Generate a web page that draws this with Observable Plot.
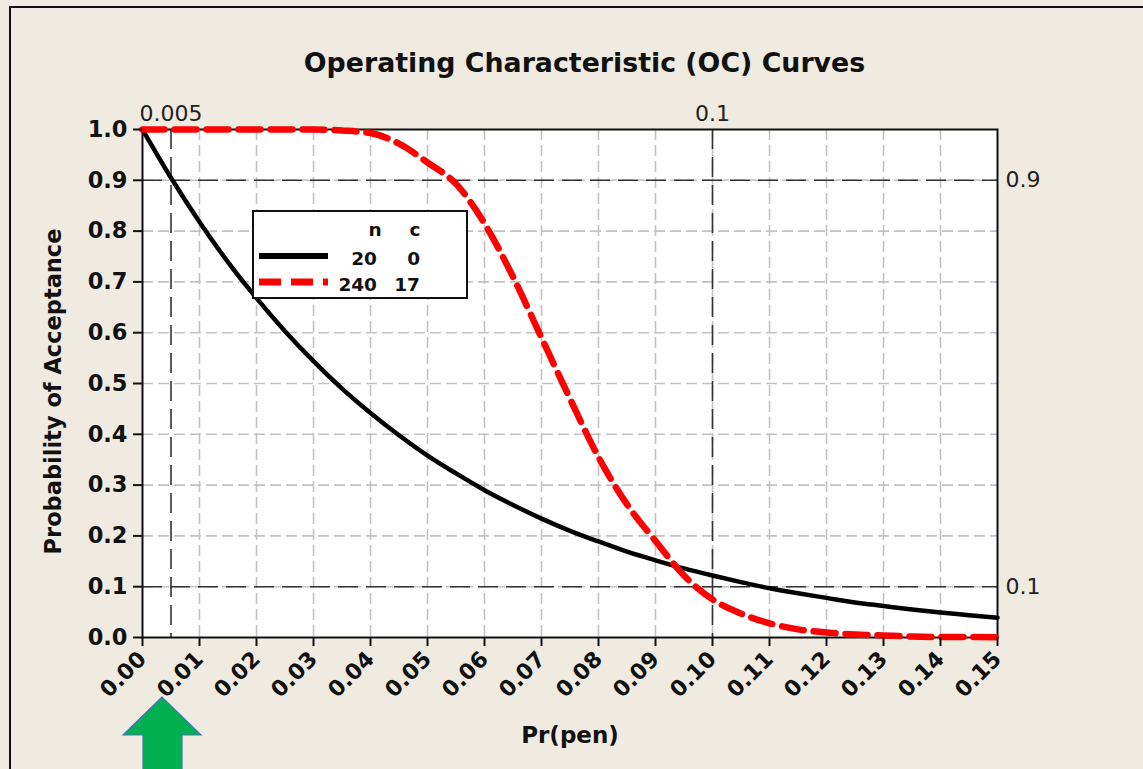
<!DOCTYPE html>
<html>
<head>
<meta charset="utf-8">
<script src="https://cdn.jsdelivr.net/npm/d3@7"></script>
<script src="https://cdn.jsdelivr.net/npm/@observablehq/plot@0.6"></script>
<style>
  html, body { margin: 0; padding: 0; background: #efebe1; }
  #wrap { position: relative; width: 1143px; height: 769px; background: #efebe1; overflow: hidden; font-family: "DejaVu Sans", sans-serif; }
  #frameline { position: absolute; left: 9px; top: 6px; width: 1200px; height: 800px; border-left: 2px solid #111; border-top: 2px solid #111; }
  #title { position: absolute; left: 0; width: 1169px; top: 50px; text-align: center; font-size: 26.8px; line-height: 26px; font-weight: bold; color: #111; }
  #chart { position: absolute; left: 0; top: 0; }
  #legend { position: absolute; left: 252px; top: 210px; }
  #arrow { position: absolute; left: 0; top: 0; }
</style>
</head>
<body>
<div id="wrap">
  <div id="frameline"></div>
  <div id="title">Operating Characteristic (OC) Curves</div>
  <div id="chart"></div>
  <svg id="legend" width="216" height="89"></svg>
  <svg id="arrow" width="1143" height="769"></svg>
</div>
<script>
// ---- data ----
const pValues = [0, 0.005, 0.01, 0.015, 0.02, 0.025, 0.03, 0.035, 0.04, 0.045, 0.05, 0.055, 0.06, 0.065, 0.07, 0.075, 0.08, 0.085, 0.09, 0.095, 0.10, 0.105, 0.11, 0.115, 0.12, 0.125, 0.13, 0.135, 0.14, 0.145, 0.15];
const paPlan20_0 = [1.000, 0.905, 0.818, 0.739, 0.668, 0.603, 0.544, 0.490, 0.442, 0.398, 0.358, 0.323, 0.290, 0.261, 0.234, 0.210, 0.189, 0.169, 0.152, 0.136, 0.122, 0.109, 0.097, 0.087, 0.078, 0.069, 0.062, 0.055, 0.049, 0.044, 0.039];
const paPlan240_17 = [1.000, 1.000, 1.000, 1.000, 1.000, 1.000, 1.000, 0.998, 0.993, 0.972, 0.935, 0.893, 0.815, 0.710, 0.590, 0.470, 0.355, 0.262, 0.190, 0.122, 0.075, 0.047, 0.028, 0.016, 0.010, 0.006, 0.004, 0.002, 0.001, 0.001, 0.0005];
const planN = ["20", "240"];
const planC = ["0", "17"];
const xTicks = [0, 0.01, 0.02, 0.03, 0.04, 0.05, 0.06, 0.07, 0.08, 0.09, 0.10, 0.11, 0.12, 0.13, 0.14, 0.15];
const yTicks = [0, 0.1, 0.2, 0.3, 0.4, 0.5, 0.6, 0.7, 0.8, 0.9, 1.0];
const refX = [0.005, 0.1];
const refXLabels = ["0.005", "0.1"];
const refY = [0.9, 0.1];
const refYLabels = ["0.9", "0.1"];
const titleText = "Operating Characteristic (OC) Curves";
const xLabel = "Pr(pen)";
const yLabel = "Probability of Acceptance";

const line1 = pValues.map((p, i) => ({p, pa: paPlan20_0[i]}));
const line2 = pValues.map((p, i) => ({p, pa: paPlan240_17[i]}));
const refXData = refX.map((v, i) => ({v, label: refXLabels[i]}));
const refYData = refY.map((v, i) => ({v, label: refYLabels[i]}));

const font = "DejaVu Sans";

const chart = Plot.plot({
  width: 1143,
  height: 769,
  marginLeft: 142,
  marginRight: 146,
  marginTop: 129,
  marginBottom: 132,
  x: {domain: [0, 0.15]},
  y: {domain: [0, 1]},
  style: {background: "transparent", fontFamily: font, color: "#111", overflow: "visible"},
  marks: [
    Plot.frame({fill: "white", stroke: "none"}),
    Plot.ruleX(xTicks.slice(1, -1), {stroke: "#c2c2c2", strokeWidth: 1.6, strokeDasharray: "11,5"}),
    Plot.ruleY(yTicks.slice(1, -1), {stroke: "#c2c2c2", strokeWidth: 1.6, strokeDasharray: "11,5"}),
    Plot.ruleX(refXData, {x: "v", stroke: "#333", strokeWidth: 1.6, strokeDasharray: "20,8"}),
    Plot.ruleY(refYData, {y: "v", stroke: "#333", strokeWidth: 1.6, strokeDasharray: "20,8"}),
    Plot.frame({stroke: "#111", strokeWidth: 2}),
    Plot.line(line1, {x: "p", y: "pa", stroke: "#000", strokeWidth: 4.5, curve: "monotone-x"}),
    Plot.line(line2, {x: "p", y: "pa", stroke: "#ff0000", strokeWidth: 6.5, strokeDasharray: "22,10", curve: "monotone-x"}),
    Plot.axisX({ticks: xTicks, tickFormat: d => d.toFixed(2), tickRotate: -45, tickSize: 9, tickPadding: 9, strokeWidth: 2, fontSize: 22, fontWeight: "bold", label: null, fontFamily: font}),
    Plot.axisY({ticks: yTicks, tickFormat: d => d.toFixed(1), tickSize: 9, tickPadding: 6, strokeWidth: 2, fontSize: 22.5, fontWeight: "bold", label: null, fontFamily: font}),
    Plot.text(refXData, {x: "v", text: "label", frameAnchor: "top", lineAnchor: "middle", dy: -16, fontSize: 22, fill: "#222"}),
    Plot.text(refYData, {y: "v", text: "label", frameAnchor: "right", lineAnchor: "middle", dx: 8, textAnchor: "start", fontSize: 22, fill: "#222"}),
    Plot.text([xLabel], {text: d => d, frameAnchor: "bottom", lineAnchor: "middle", dy: 98, fontSize: 23, fontWeight: "bold"}),
    Plot.text([yLabel], {text: d => d, frameAnchor: "left", textAnchor: "middle", lineAnchor: "middle", dx: -89, dy: 8, rotate: -90, fontSize: 22.5, fontWeight: "bold"})
  ]
});
document.getElementById("chart").appendChild(chart);
document.getElementById("title").textContent = titleText;

// ---- legend ----
const lg = d3.select("#legend");
lg.append("rect").attr("x", 1).attr("y", 1).attr("width", 214).attr("height", 87)
  .attr("fill", "white").attr("stroke", "#111").attr("stroke-width", 2);
const lt = (x, y, t, anchor) => lg.append("text").attr("x", x).attr("y", y).attr("text-anchor", anchor)
  .attr("font-family", font).attr("font-size", 18.5).attr("font-weight", "bold").attr("fill", "#111").text(t);
lt(123, 26, "n", "middle");
lt(163, 26, "c", "middle");
const rows = [{y: 46, stroke: "#000", w: 6, dash: null}, {y: 72, stroke: "#ff0000", w: 7, dash: "22,10"}];
rows.forEach((r, i) => {
  const l = lg.append("line").attr("x1", 7).attr("x2", 76).attr("y1", r.y).attr("y2", r.y)
    .attr("stroke", r.stroke).attr("stroke-width", r.w);
  if (r.dash) l.attr("stroke-dasharray", r.dash);
  lt(125, r.y + 8.5, planN[i], "end");
  lt(168, r.y + 8.5, planC[i], "end");
});

// ---- green arrow annotation ----
d3.select("#arrow").append("polygon")
  .attr("points", "162,697 123,735 143,735 143,775 182,775 182,735 201,735")
  .attr("fill", "#00b050").attr("stroke", "#4a72c0").attr("stroke-width", 1.2);
</script>
</body>
</html>
